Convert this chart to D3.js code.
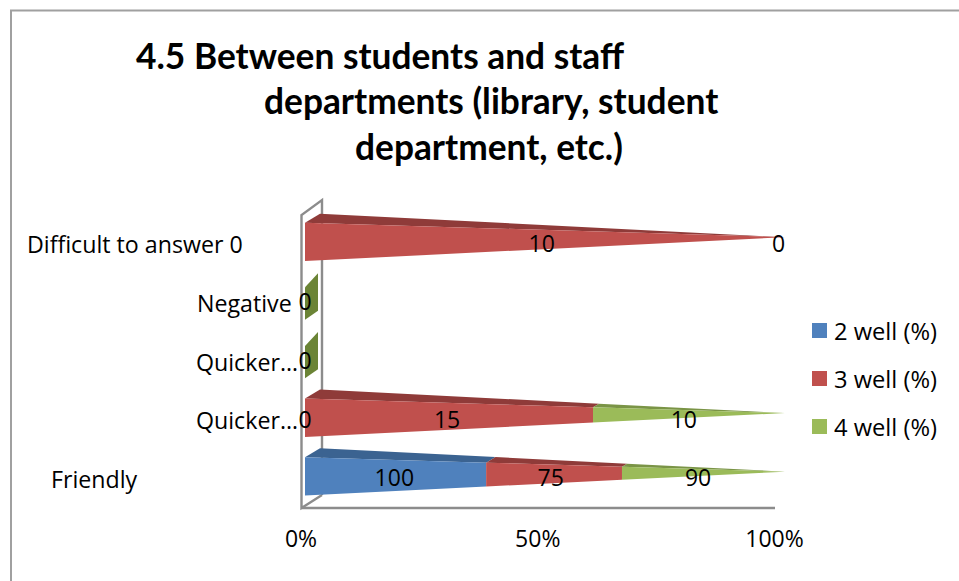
<!DOCTYPE html>
<html><head><meta charset="utf-8">
<script src="https://cdn.jsdelivr.net/npm/d3@7"></script>
<style>html,body{margin:0;padding:0;background:#fff}svg{display:block}text{font-family:"Open Sans",sans-serif;fill:#000}</style>
</head><body>
<svg id="c" width="959" height="581"></svg>
<script>
const categories = ["Friendly","Quicker…","Quicker…","Negative","Difficult to answer 0"];
const seriesNames = ["2 well (%)","3 well (%)","4 well (%)"];
const well2 = [100,0,0,0,0];
const well3 = [75,15,0,0,10];
const well4 = [90,10,0,0,0];
const tickLabels = [0,0.5,1];
const titleLines = ["4.5 Between students and staff","departments (library, student","department, etc.)"];
const titleX = [136,264,355];
const categoryX = [51,196,196,197,27];
const colors = ["#4f81bd","#c0504d","#9bbb59"];
const topColors = ["#3b6391","#8f3b39","#7a9446"];
const capColor = "#6b8436";

const svg = d3.select("#c");
const rows = categories.map((c,i)=>({c,i,a:well2[i],b:well3[i],d:well4[i]}));
const stacked = d3.stack().keys(["a","b","d"]).offset(d3.stackOffsetExpand)(rows);

// frame
const frame = svg.append("g").attr("fill","none").attr("stroke","#a0a0a0").attr("stroke-width",2);
frame.append("path").attr("d","M959,10.5H11V581");

// title
svg.append("g").selectAll("text").data(titleLines).join("text")
  .attr("x",(d,i)=>titleX[i]).attr("y",(d,i)=>68.5+i*45.5)
  .style("font-family","Lato, sans-serif")
  .attr("font-size",35.3).attr("font-weight",700).text(d=>d);

const x = d3.scaleLinear().domain([0,1]).range([305,785]);
const xAxisScale = d3.scaleLinear().domain([0,1]).range([301.5,775]);
const y = d3.scaleBand().domain(d3.range(categories.length)).range([495.5,222.7]).paddingInner(0.346).paddingOuter(0);

// walls
const wall = svg.append("g").attr("fill","none").attr("stroke","#8c8c8c").attr("stroke-width",2.4);
wall.append("path").attr("d","M322,495V200L301.5,215V508L322,495");
wall.append("path").attr("d",`M301.5,508H${xAxisScale(1)}`);

// pyramid geometry
const depthX = 15, depthY = 9, apexDrop = 14.5;
function pts(i,t){
  const top = y(i), bot = top+y.bandwidth(), ax = x(1), ay = top+apexDrop;
  const lerp=(a,b)=>a+(b-a)*t;
  return {
    ft:[lerp(x(0),ax),lerp(top,ay)],
    fb:[lerp(x(0),ax),lerp(bot,ay)],
    bt:[lerp(x(0)+depthX,ax),lerp(top-depthY,ay)]
  };
}
const poly = a=>a.map(p=>p.join(",")).join(" ");

stacked.forEach((s,si)=>{
  const g = svg.append("g");
  s.forEach((d,i)=>{
    if(d[1]-d[0]<=0) return;
    const p0=pts(i,d[0]), p1=pts(i,d[1]);
    g.append("polygon").attr("points",poly([p0.bt,p1.bt,p1.ft,p0.ft])).attr("fill",topColors[si]);
    g.append("polygon").attr("points",poly([p0.ft,p1.ft,p1.fb,p0.fb])).attr("fill",colors[si]);
  });
});
// empty rows: only the end cap remains
rows.forEach((r,i)=>{
  if(r.a+r.b+r.d>0) return;
  const top=y(i), bot=top+y.bandwidth();
  svg.append("polygon").attr("fill",capColor)
    .attr("points",poly([[x(0),top+6],[x(0)+13,top-8],[x(0)+13,bot-9],[x(0),bot]]));
});

// axis
const ax = svg.append("g").attr("transform","translate(-1,519)")
  .call(d3.axisBottom(xAxisScale).tickValues(tickLabels).tickFormat(d3.format(".0%")).tickSize(0).tickPadding(12));
ax.select(".domain").remove();
ax.selectAll("text").attr("font-size",23).attr("font-family",'"Open Sans",sans-serif').attr("fill","#000");

// categories
svg.append("g").selectAll("text").data(categories).join("text")
  .attr("x",(d,i)=>categoryX[i]).attr("y",(d,i)=>y(i)+y.bandwidth()/2+11.5)
  .attr("font-size",23.2).text(d=>d);

// data labels: one per stack position; the leading 0 of the last row sits in its category text
const labels=[];
stacked.forEach((s,si)=>s.forEach((d,i)=>{
  const v=s.key==="a"?well2[i]:s.key==="b"?well3[i]:well4[i];
  const t=(d[0]+d[1])/2;
  if(v===0 && i===4 && t===0) return;
  if(v===0 && labels.some(l=>l.i===i&&l.t===t)) return;
  if(v===0 && i===0) return;
  labels.push({i,t,v});
}));
svg.append("g").selectAll("text").data(labels).join("text")
  .attr("x",d=>xAxisScale(d.t)+3.5).attr("y",d=>y(d.i)+y.bandwidth()/2+10)
  .attr("text-anchor","middle").attr("font-size",23).text(d=>d.v);

// legend
const leg=svg.append("g").selectAll("g").data(seriesNames).join("g")
  .attr("transform",(d,i)=>`translate(812,${323+i*48})`);
leg.append("rect").attr("width",15).attr("height",15).attr("fill",(d,i)=>colors[i]);
leg.append("text").attr("x",22).attr("y",17).attr("font-size",23.7).text(d=>d);
</script>
</body></html>
